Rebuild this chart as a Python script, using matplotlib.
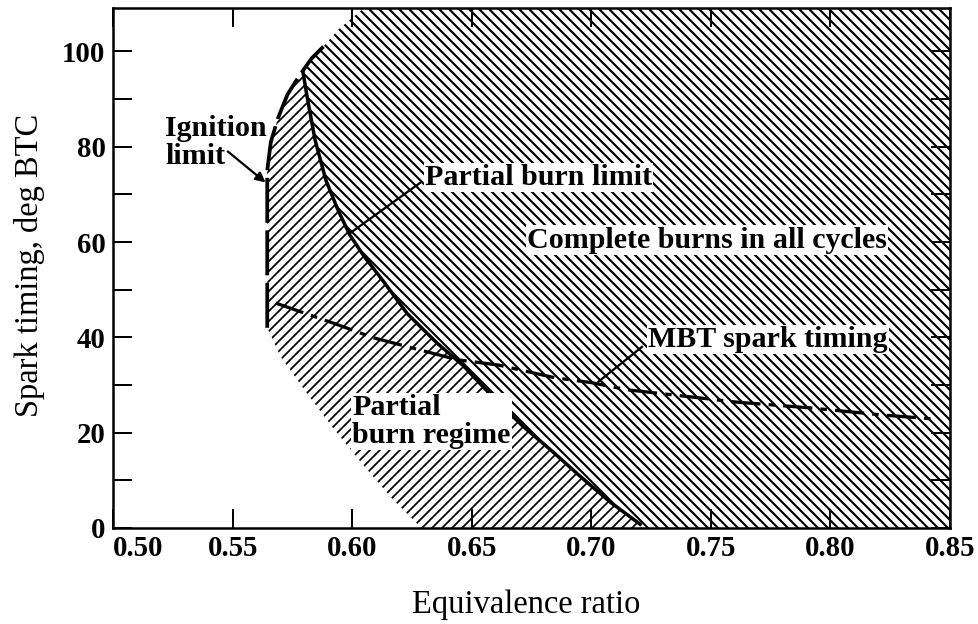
import matplotlib
matplotlib.use("Agg")
import matplotlib.pyplot as plt
from matplotlib.patches import Polygon
import numpy as np

# Spark timing limits vs equivalence ratio (lean SI engine)
ign_phi = [0.5645, 0.5645, 0.5660, 0.5690, 0.5730, 0.5785, 0.5830, 0.5880]
ign_deg = [42.0, 75.0, 81.0, 86.0, 91.0, 95.3, 98.5, 101.0]

pbl_phi = [0.5795, 0.5812, 0.5845, 0.5890, 0.594, 0.599, 0.605, 0.613, 0.623,
           0.6355, 0.6464, 0.655, 0.6715, 0.683, 0.695, 0.708, 0.7204]
pbl_deg = [95.5, 90.4, 81.4, 73.0, 66.8, 61.5, 57.0, 51.8, 45.0,
           38.8, 34.1, 29.5, 21.3, 16.4, 11.0, 5.4, 0.8]

mbt_phi = [0.568, 0.592, 0.609, 0.628, 0.644, 0.661, 0.685, 0.700, 0.715,
           0.740, 0.761, 0.7915, 0.822, 0.845]
mbt_deg = [47.2, 43.0, 39.9, 37.4, 35.3, 34.2, 31.5, 30.5, 29.0,
           27.6, 26.4, 25.2, 23.7, 22.8]

# outer edge of the partial-burn hatching (lower left)
lo_phi = [0.5645, 0.570, 0.580, 0.592, 0.605, 0.617, 0.629]
lo_deg = [42.0, 36.0, 29.0, 21.0, 13.0, 6.0, 0.0]

# outer edge of the complete-burn hatching (top)
up_phi = [0.5795, 0.5830, 0.5880, 0.594, 0.599, 0.605]
up_deg = [95.5, 98.5, 101.0, 104.5, 106.6, 109.1]

xmin, xmax, ymin, ymax = 0.50, 0.85, 0.0, 109.1
xticks = [0.50, 0.55, 0.60, 0.65, 0.70, 0.75, 0.80, 0.85]
yticks = [0, 20, 40, 60, 80, 100]

plt.rcParams['font.family'] = ['Liberation Serif', 'DejaVu Serif']

DPI = 90
fig = plt.figure(figsize=(978 / DPI, 624 / DPI), dpi=DPI)
ax = fig.add_axes([113 / 978, 1 - 528 / 624, 837 / 978, 520 / 624])
ax.set_xlim(xmin, xmax)
ax.set_ylim(ymin, ymax)

# partial burn regime: between ignition limit, partial burn limit and lower edge
pb = list(zip(ign_phi[:6], ign_deg[:6]))
pb += list(zip(pbl_phi, pbl_deg))
pb += [(0.7215, 0.0)]
pb += list(zip(lo_phi[::-1], lo_deg[::-1]))
plt.rcParams['hatch.linewidth'] = 1.4
ax.add_patch(Polygon(pb, closed=True, facecolor='white', edgecolor='black',
                     linewidth=0, hatch='///', zorder=1))

# complete burns region: right of the partial burn limit
cb = list(zip(pbl_phi[::-1], pbl_deg[::-1]))
cb = [(0.7215, 0.0)] + cb
cb += list(zip(up_phi[1:], up_deg[1:]))
cb += [(xmax, ymax), (xmax, 0.0)]
plt.rcParams['hatch.linewidth'] = 1.7
ax.add_patch(Polygon(cb, closed=True, facecolor='white', edgecolor='black',
                     linewidth=0, hatch='\\\\\\', zorder=1))

# limit curves
ax.plot(ign_phi, ign_deg, color='black', lw=3.0,
        linestyle=(0, (12, 2.0)), solid_capstyle='butt', zorder=3)
ax.plot(pbl_phi, pbl_deg, color='black', lw=2.8, zorder=3)
ax.plot(mbt_phi, mbt_deg, color='black', lw=2.6,
        linestyle=(0, (9, 2.5, 2, 2.5)), zorder=3)

tfont = dict(fontsize=24, fontweight='bold', color='black', zorder=5)
box = dict(facecolor='white', edgecolor='none', pad=1.0)

ax.text(0.5217, 80.8, 'Ignition\nlimit', ha='left', va='center',
        linespacing=1.05, **tfont)
ax.annotate('', xy=(0.5638, 72.5), xytext=(0.548, 79.0),
            arrowprops=dict(arrowstyle='-|>', color='black', lw=1.8,
                            mutation_scale=16, shrinkA=0, shrinkB=0), zorder=5)

ax.text(0.6305, 73.5, 'Partial burn limit', ha='left', va='center',
        bbox=box, **tfont)
ax.plot([0.6284, 0.5995], [72.4, 62.0], color='black', lw=1.8, zorder=4)

ax.text(0.6731, 60.4, 'Complete burns in all cycles', ha='left', va='center',
        bbox=box, **tfont)

ax.text(0.7237, 39.5, 'MBT spark timing', ha='left', va='center',
        bbox=box, **tfont)
ax.plot([0.7212, 0.7030], [38.0, 30.7], color='black', lw=1.8, zorder=4)

ax.text(0.600, 22.4, 'Partial\nburn regime', ha='left', va='center',
        linespacing=1.05, bbox=box, **tfont)

ax.set_xticks(xticks)
ax.set_xticklabels(['%.2f' % v for v in xticks])
ax.set_yticks(yticks)
ax.set_yticks(np.arange(10, 110, 20), minor=True)
ax.tick_params(which='both', direction='in', length=15, width=1.6,
               top=True, right=True, labelsize=23, pad=6)
for lab in ax.get_xticklabels() + ax.get_yticklabels():
    lab.set_fontweight('bold')
# first label sits inside the frame, clear of the y "0"
ax.get_xticklabels()[0].set_ha('left')
for sp in ax.spines.values():
    sp.set_linewidth(2.0)

ax.set_xlabel('Equivalence ratio', fontsize=26, va='center', ha='center')
ax.set_ylabel('Spark timing, deg BTC', fontsize=26, va='center', ha='center')
ax.xaxis.set_label_coords((526 - 113) / 837, -77 / 520)
ax.yaxis.set_label_coords(-83 / 837, (528 - 265) / 520)

fig.savefig('out.png', dpi=DPI)
